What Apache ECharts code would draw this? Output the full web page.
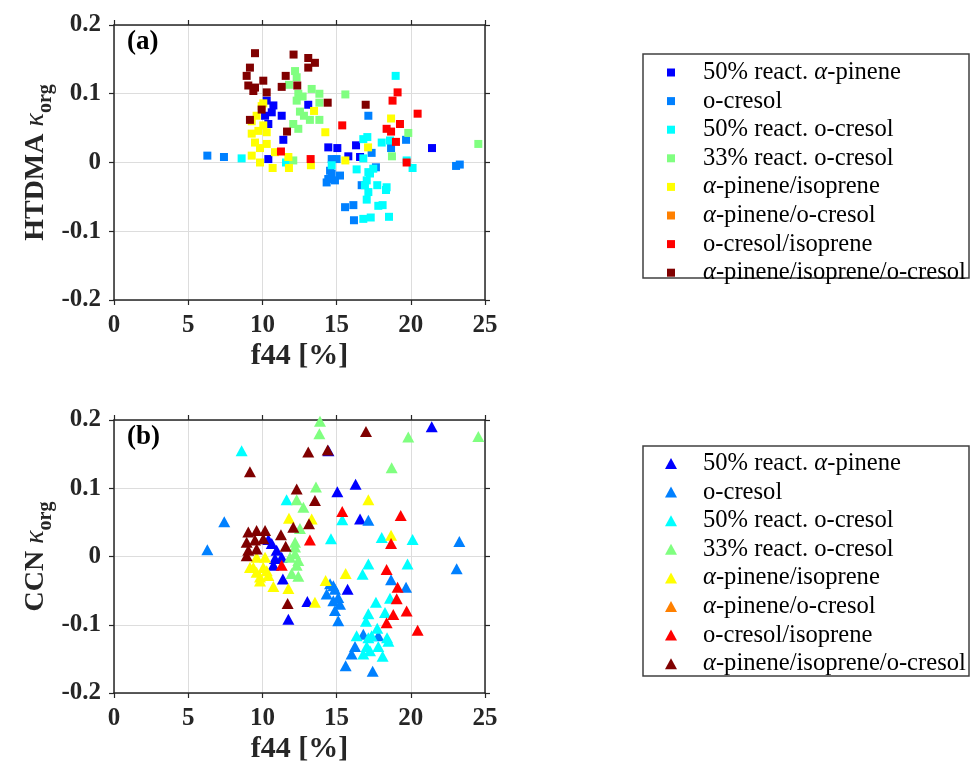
<!DOCTYPE html>
<html>
<head>
<meta charset="utf-8">
<script src="https://cdn.jsdelivr.net/npm/echarts@6/dist/echarts.min.js"></script>
<style>
html,body{margin:0;padding:0;background:#fff;}
#c{width:972px;height:771px;}
</style>
</head>
<body>
<div id="c"></div>
<script>
// ---------- categories / colours ----------
const categories = ['50% react. α-pinene','o-cresol','50% react. o-cresol','33% react. o-cresol',
  'α-pinene/isoprene','α-pinene/o-cresol','o-cresol/isoprene','α-pinene/isoprene/o-cresol'];
const colors = ['#0000ff','#0080ff','#00ffff','#80ff80','#ffff00','#ff8000','#ff0000','#800000'];
const xTicks = [0,5,10,15,20,25];
const yTicks = [-0.2,-0.1,0,0.1,0.2];

// ---------- panel (a): HTDMA kappa_org vs f44 ----------
const htdma_apinene50 = [[10.29,0.090],[10.74,0.083],[10.63,0.073],[10.18,0.068],[11.3,0.068],[10.4,0.056],[11.41,0.033],[10.4,0.005],[13.09,0.084],[14.44,0.022],[15.05,0.021],[16.31,0.025],[15.79,0.009],[16.58,0.008],[21.43,0.021]];
const htdma_ocresol = [[6.29,0.010],[7.41,0.008],[17.14,0.068],[19.68,0.033],[18.67,0.021],[17.36,0.014],[23.05,-0.005],[23.3,-0.003],[14.67,0.005],[15.0,0.005],[14.56,-0.012],[14.44,-0.024],[14.89,-0.026],[15.23,-0.019],[14.67,-0.016],[14.33,-0.029],[17.65,-0.007],[15.57,-0.065],[16.13,-0.062],[16.17,-0.084],[16.69,-0.033]];
const htdma_ocresol50 = [[8.6,0.006],[11.59,0.000],[18.98,0.126],[17.07,0.037],[16.8,0.034],[18.04,0.029],[18.6,0.032],[16.8,0.006],[14.67,-0.004],[16.35,-0.010],[17.14,-0.014],[17.47,-0.009],[20.12,-0.008],[19.72,0.003],[17.25,-0.016],[17.03,-0.026],[16.91,-0.033],[17.74,-0.033],[18.37,-0.036],[18.33,-0.040],[17.14,-0.043],[17.03,-0.054],[17.81,-0.063],[18.1,-0.062],[16.8,-0.082],[17.3,-0.080],[18.53,-0.079]];
const htdma_ocresol33 = [[12.2,0.133],[12.31,0.124],[11.79,0.113],[13.32,0.107],[13.84,0.100],[12.42,0.100],[12.71,0.096],[12.31,0.090],[13.84,0.087],[15.59,0.099],[12.53,0.074],[12.8,0.068],[13.2,0.062],[13.84,0.062],[12.08,0.056],[12.42,0.049],[19.83,0.043],[18.73,0.009],[24.55,0.027],[12.08,0.003]];
const htdma_apIso = [[10.06,0.086],[9.95,0.082],[9.61,0.068],[9.28,0.060],[10.06,0.054],[9.28,0.042],[9.73,0.046],[10.29,0.044],[9.5,0.029],[10.29,0.027],[9.84,0.021],[9.28,0.010],[10.85,0.015],[11.75,0.008],[9.84,0.000],[10.69,-0.008],[11.79,-0.008],[13.48,0.075],[14.24,0.044],[18.67,0.064],[17.12,0.022],[15.59,0.003],[13.27,-0.004]];
const htdma_apOcr = [];
const htdma_ocrIso = [[11.25,0.016],[19.11,0.102],[18.77,0.090],[20.46,0.071],[15.38,0.054],[19.27,0.056],[18.37,0.049],[18.67,0.045],[19.0,0.030],[13.25,0.005],[19.72,0.000]];
const htdma_apIsoOcr = [[9.50,0.159],[12.1,0.157],[9.16,0.138],[8.94,0.126],[11.57,0.126],[10.06,0.119],[9.05,0.112],[9.50,0.109],[11.3,0.110],[10.29,0.102],[9.39,0.104],[12.35,0.112],[9.95,0.077],[9.16,0.062],[11.66,0.045],[13.09,0.152],[13.54,0.145],[13.09,0.138],[14.4,0.087],[16.96,0.084]];

// ---------- panel (b): CCN kappa_org vs f44 ----------
const ccn_apinene50 = [[10.63,0.019],[10.4,0.025],[10.96,0.009],[11.3,-0.001],[10.85,-0.003],[10.74,-0.013],[11.38,-0.033],[11.75,-0.092],[13.03,-0.066],[21.41,0.190],[14.45,0.155],[15.05,0.095],[16.28,0.106],[16.58,0.055],[15.74,-0.048]];
const ccn_ocresol = [[7.43,0.051],[6.29,0.010],[17.14,0.053],[23.27,0.022],[23.09,-0.018],[18.67,-0.034],[19.68,-0.045],[14.78,-0.043],[14.56,-0.040],[14.89,-0.048],[14.33,-0.055],[15.11,-0.060],[14.78,-0.065],[15.23,-0.070],[14.89,-0.079],[15.11,-0.094],[17.81,-0.116],[16.8,-0.114],[16.24,-0.132],[16.01,-0.143],[15.61,-0.160],[17.43,-0.168]];
const ccn_ocresol50 = [[8.6,0.155],[11.63,0.083],[15.38,0.054],[14.62,0.026],[18.04,0.028],[20.12,0.025],[17.14,-0.011],[16.75,-0.026],[19.78,-0.011],[18.6,-0.061],[17.65,-0.067],[18.26,-0.082],[17.14,-0.084],[16.98,-0.095],[17.74,-0.105],[16.35,-0.116],[17.14,-0.119],[17.36,-0.116],[18.4,-0.119],[18.49,-0.124],[17.03,-0.132],[17.81,-0.132],[16.8,-0.143],[17.25,-0.138],[18.1,-0.146]];
const ccn_ocresol33 = [[13.88,0.198],[13.84,0.180],[19.83,0.175],[24.55,0.176],[18.71,0.130],[13.61,0.102],[12.31,0.083],[12.76,0.072],[12.53,0.041],[12.2,0.021],[12.2,0.004],[12.31,-0.013],[11.97,-0.025],[12.2,0.014],[11.86,-0.001],[12.42,-0.006],[12.42,-0.029]];
const ccn_apIso = [[11.79,0.056],[9.61,-0.001],[10.18,-0.001],[9.39,-0.016],[10.06,-0.016],[9.84,-0.030],[10.4,-0.028],[9.84,-0.036],[10.74,-0.044],[11.75,-0.047],[13.54,-0.067],[9.16,-0.016],[9.61,-0.023],[10.29,-0.021],[17.14,0.083],[13.32,0.055],[18.67,0.031],[15.61,-0.025],[14.26,-0.035]];
const ccn_apOcr = [];
const ccn_ocrIso = [[11.3,-0.013],[13.2,0.024],[15.38,0.066],[19.32,0.060],[18.67,0.019],[18.37,-0.019],[19.11,-0.045],[19.05,-0.062],[19.72,-0.080],[18.82,-0.085],[18.37,-0.097],[20.46,-0.108]];
const ccn_apIsoOcr = [[9.16,0.124],[12.31,0.099],[12.08,0.043],[11.25,0.032],[11.57,0.015],[9.05,0.036],[9.61,0.038],[10.18,0.038],[8.94,0.021],[9.5,0.024],[10.06,0.026],[9.05,0.009],[9.61,0.011],[8.94,0.001],[11.7,-0.069],[16.98,0.183],[13.09,0.153],[14.4,0.156],[13.54,0.082],[13.14,0.048]];

const panelA = [htdma_apinene50, htdma_ocresol, htdma_ocresol50, htdma_ocresol33, htdma_apIso, htdma_apOcr, htdma_ocrIso, htdma_apIsoOcr];
const panelB = [ccn_apinene50, ccn_ocresol, ccn_ocresol50, ccn_ocresol33, ccn_apIso, ccn_apOcr, ccn_ocrIso, ccn_apIsoOcr];

// ---------- styling ----------
const SERIF = '"Liberation Serif","Times New Roman",serif';
const AXC = '#262626';
const GRIDC = '#dddddd';

function fmtY(v){ if (Math.abs(v) < 1e-9) return '0'; return (Math.round(v*10)/10).toFixed(1); }

function xAxes(gi){
  const base = {gridIndex: gi, type:'value', min: xTicks[0], max: xTicks[xTicks.length-1], interval: xTicks[1]-xTicks[0],
    axisLine:{show:true, onZero:false, lineStyle:{color:AXC, width:1.5}},
    axisTick:{show:true, inside:false, length:5, lineStyle:{color:AXC, width:1.2}}};
  return [
    Object.assign({}, base, {position:'bottom',
      axisLabel:{margin:13, fontFamily:SERIF, fontWeight:'bold', fontSize:25, color:'#262626'},
      splitLine:{show:true, lineStyle:{color:GRIDC, width:1}},
      name:'f44 [%]', nameLocation:'middle', nameGap:41,
      nameTextStyle:{fontFamily:SERIF, fontWeight:'bold', fontSize:30, color:'#262626'}}),
    Object.assign({}, base, {position:'top', axisLabel:{show:false}, splitLine:{show:false}})
  ];
}
function yAxes(gi, title){
  const base = {gridIndex: gi, type:'value', min: yTicks[0], max: yTicks[yTicks.length-1], interval: 0.1,
    axisLine:{show:true, onZero:false, lineStyle:{color:AXC, width:1.5}},
    axisTick:{show:true, inside:false, length:5, lineStyle:{color:AXC, width:1.2}}};
  return [
    Object.assign({}, base, {position:'left',
      axisLabel:{margin:13, formatter: fmtY, fontFamily:SERIF, fontWeight:'bold', fontSize:25, color:'#262626'},
      splitLine:{show:true, lineStyle:{color:GRIDC, width:1}},
      name: '{b|' + title + ' }{k|κ}{s|org}', nameLocation:'middle', nameGap:58, nameRotate:90,
      nameTextStyle:{color:'#262626', rich:{
        b:{fontFamily:SERIF, fontWeight:'bold', fontSize:28, lineHeight:40, color:'#262626'},
        k:{fontFamily:SERIF, fontStyle:'italic', fontSize:28, lineHeight:40, color:'#262626'},
        s:{fontFamily:SERIF, fontWeight:'bold', fontSize:20, lineHeight:22, verticalAlign:'bottom', color:'#262626'}
      }}}),
    Object.assign({}, base, {position:'right', axisLabel:{show:false}, splitLine:{show:false}})
  ];
}

const series = [];
function addSeries(data, gi, symbol, size){
  data.forEach((d, i) => {
    series.push({
      type:'scatter', name: categories[i], xAxisIndex: gi*2, yAxisIndex: gi*2,
      data: d, symbol: symbol, symbolSize: size,
      itemStyle:{color: colors[i], opacity:1}, animation:false, z: 2+i
    });
  });
}
addSeries(panelA, 0, 'rect', 8);
addSeries(panelB, 1, 'triangle', [12,11]);

function legendRich(name){ return name.replace(/α/g, '{i|α}'); }
const legendText = {fontFamily:SERIF, fontSize:24.6, color:'#000', lineHeight:24,
  rich:{ i:{fontFamily:SERIF, fontStyle:'italic', fontSize:24.6, lineHeight:24, color:'#000'} }};

const option = {
  backgroundColor:'#fff',
  animation:false,
  grid:[
    {left:114, top:25, width:371, height:275, containLabel:false},
    {left:114, top:420, width:371, height:273, containLabel:false}
  ],
  xAxis: xAxes(0).concat(xAxes(1)),
  yAxis: yAxes(0,'HTDMA').concat(yAxes(1,'CCN')),
  legend:[
    {orient:'vertical', left:667, top:60, padding:0, itemGap:3.6, itemWidth:8, itemHeight:8, icon:'rect',
     data: categories, formatter: legendRich, selectedMode:false,
     textStyle: Object.assign({padding:[0,0,0,23]}, legendText)},
    {orient:'vertical', left:665, top:451, padding:0, itemGap:3.6, itemWidth:12, itemHeight:11, icon:'triangle',
     data: categories, formatter: legendRich, selectedMode:false,
     textStyle: Object.assign({padding:[0,0,0,21]}, legendText)}
  ],
  graphic:[
    {type:'rect', shape:{x:643, y:54, width:326, height:224}, style:{fill:'none', stroke:'#404040', lineWidth:1.5}, z:-1},
    {type:'rect', shape:{x:643, y:446, width:326, height:230}, style:{fill:'none', stroke:'#404040', lineWidth:1.5}, z:-1},
    {type:'text', left:127, top:29, style:{text:'(a)', font:'bold 27px ' + SERIF, fill:'#000'}},
    {type:'text', left:127, top:424, style:{text:'(b)', font:'bold 27px ' + SERIF, fill:'#000'}}
  ],
  series: series
};

const chart = echarts.init(document.getElementById('c'), null, {renderer:'canvas'});
chart.setOption(option);
</script>
</body>
</html>
